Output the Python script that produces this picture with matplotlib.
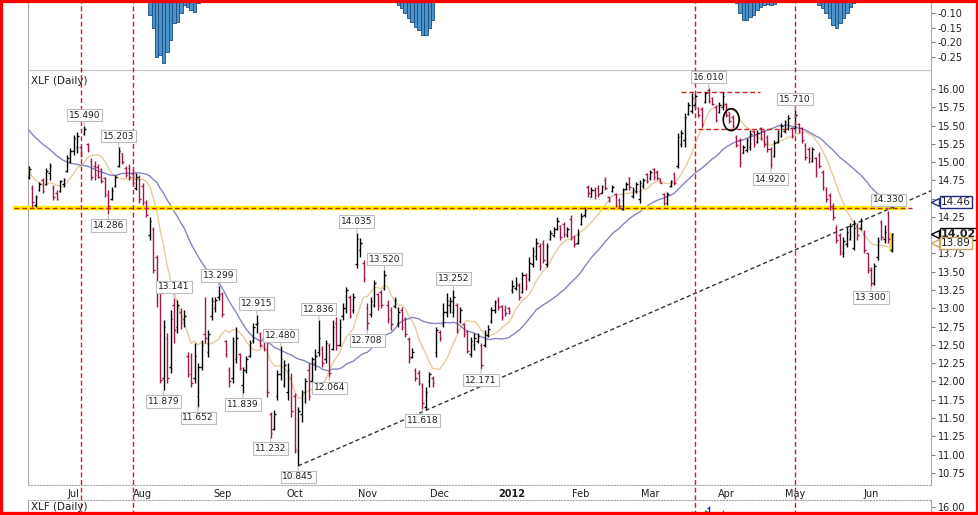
import numpy as np
import pandas as pd
import matplotlib
matplotlib.use("Agg")
import matplotlib.pyplot as plt
import matplotlib.transforms as mtrans
from matplotlib.patches import Ellipse, Rectangle

# XLF daily bars (open, high, low, close)
holidays = ["2011-07-04", "2011-09-05", "2011-11-24", "2011-12-26", "2012-01-02",
            "2012-01-16", "2012-02-20", "2012-04-06", "2012-05-28"]

# closes before the visible window, only used to seed the moving averages
warmup_closes = [16.05, 16.10, 15.95, 15.98, 15.90, 15.95, 16.00, 15.85, 15.80, 15.70,
                 15.72, 15.65, 15.70, 15.60, 15.55, 15.50, 15.52, 15.45, 15.40, 15.48,
                 15.55, 15.10, 15.05, 14.98, 14.90, 14.85, 14.70, 14.65, 14.72, 14.80]

jun11 = [(14.80, 14.94, 14.77, 14.90), (14.65, 14.69, 14.39, 14.45), (14.42, 14.55, 14.39, 14.52),
         (14.62, 14.73, 14.60, 14.70), (14.75, 14.78, 14.58, 14.60), (14.70, 14.92, 14.69, 14.88),
         (14.85, 14.99, 14.76, 14.95), (14.65, 14.69, 14.48, 14.52), (14.58, 14.62, 14.48, 14.50),
         (14.60, 14.76, 14.59, 14.74), (14.70, 14.78, 14.66, 14.76), (14.88, 15.10, 14.86, 15.05),
         (15.02, 15.19, 14.99, 15.15)]
jul11 = [(15.15, 15.37, 15.10, 15.33), (15.20, 15.41, 15.12, 15.36), (15.20, 15.21, 15.07, 15.10),
         (15.38, 15.49, 15.37, 15.45), (15.25, 15.26, 15.14, 15.16), (15.02, 15.05, 14.76, 14.80),
         (14.95, 15.02, 14.76, 14.82), (14.93, 14.97, 14.78, 14.80), (14.90, 14.92, 14.71, 14.74),
         (14.78, 14.80, 14.52, 14.56), (14.55, 14.62, 14.286, 14.40), (14.50, 14.66, 14.48, 14.62),
         (14.68, 14.82, 14.66, 14.80), (14.95, 15.203, 14.93, 15.15), (15.12, 15.13, 14.97, 15.00),
         (14.92, 14.95, 14.79, 14.82), (14.92, 14.98, 14.76, 14.80), (14.85, 14.90, 14.70, 14.72),
         (14.65, 14.85, 14.62, 14.80), (14.78, 14.82, 14.44, 14.50)]
aug11 = [(14.68, 14.71, 14.41, 14.46), (14.45, 14.48, 14.25, 14.27), (14.00, 14.25, 13.93, 14.20),
         (14.08, 14.11, 13.48, 13.52), (13.70, 13.73, 13.02, 13.35), (13.25, 13.29, 11.98, 12.02),
         (12.05, 12.84, 11.879, 12.75), (12.60, 12.66, 11.98, 12.05), (12.20, 12.98, 12.11, 12.85),
         (13.05, 13.141, 12.53, 12.70), (12.75, 13.11, 12.66, 13.05), (12.95, 13.00, 12.72, 12.80),
         (12.85, 12.98, 12.75, 12.90), (12.35, 12.40, 12.06, 12.10), (12.10, 12.39, 11.92, 11.98),
         (12.05, 12.53, 11.98, 12.35), (11.80, 12.25, 11.652, 12.20), (12.20, 12.57, 12.16, 12.50),
         (12.65, 13.15, 12.53, 12.60), (12.40, 12.70, 12.33, 12.65), (12.90, 13.15, 12.84, 13.10),
         (13.00, 13.15, 12.95, 13.12), (13.15, 13.299, 13.12, 13.20)]
sep11 = [(13.20, 13.22, 12.88, 12.92), (12.55, 12.57, 12.33, 12.38), (12.15, 12.20, 11.93, 12.00),
         (12.05, 12.61, 11.98, 12.55), (12.30, 12.74, 12.25, 12.60), (12.38, 12.39, 12.16, 12.18),
         (11.95, 12.20, 11.839, 12.15), (12.15, 12.35, 12.11, 12.30), (12.35, 12.57, 12.33, 12.52),
         (12.55, 12.80, 12.53, 12.75), (12.78, 12.915, 12.66, 12.80), (12.65, 12.68, 12.47, 12.50),
         (12.60, 12.62, 12.42, 12.45), (12.55, 12.57, 11.79, 11.85), (11.55, 11.58, 11.232, 11.30),
         (11.35, 11.61, 11.34, 11.55), (11.80, 12.16, 11.75, 12.10), (12.10, 12.48, 12.02, 12.30),
         (11.95, 12.29, 11.92, 12.22), (11.85, 12.25, 11.75, 12.15), (12.05, 12.11, 11.51, 11.60)]
oct11 = [(11.80, 11.84, 11.02, 11.08), (11.05, 11.65, 10.845, 11.60), (11.55, 11.88, 11.45, 11.85),
         (11.85, 12.05, 11.70, 12.00), (12.15, 12.25, 11.75, 11.80), (12.00, 12.33, 11.98, 12.30),
         (12.25, 12.45, 12.16, 12.35), (12.40, 12.836, 12.35, 12.60), (12.45, 12.48, 12.20, 12.25),
         (12.30, 12.57, 12.25, 12.52), (12.50, 12.53, 12.064, 12.12), (12.45, 12.84, 12.43, 12.75),
         (12.80, 12.88, 12.43, 12.50), (12.50, 12.86, 12.48, 12.75), (12.90, 13.07, 12.84, 13.00),
         (13.00, 13.29, 12.94, 13.25), (13.15, 13.18, 12.87, 12.90), (12.98, 13.21, 12.94, 13.15),
         (13.60, 14.035, 13.55, 13.95), (13.80, 13.96, 13.70, 13.90), (13.62, 13.66, 13.36, 13.40)]
nov11 = [(13.00, 13.07, 12.708, 12.80), (12.92, 13.15, 12.88, 13.10), (13.05, 13.39, 13.02, 13.35),
         (13.20, 13.21, 12.98, 13.05), (13.22, 13.25, 13.00, 13.05), (13.28, 13.52, 13.25, 13.45),
         (13.05, 13.11, 12.80, 12.85), (12.98, 13.02, 12.70, 12.78), (13.03, 13.15, 13.00, 13.12),
         (12.80, 13.02, 12.74, 12.95), (12.98, 13.02, 12.70, 12.75), (12.85, 12.88, 12.61, 12.65),
         (12.58, 12.61, 12.25, 12.30), (12.33, 12.46, 12.32, 12.40), (12.15, 12.18, 12.00, 12.05),
         (12.12, 12.16, 11.95, 11.98), (11.95, 11.98, 11.618, 11.70), (11.65, 11.92, 11.62, 11.85),
         (12.00, 12.13, 11.92, 12.10), (12.05, 12.08, 11.92, 11.98), (12.40, 12.74, 12.33, 12.70)]
dec11 = [(12.68, 12.70, 12.55, 12.60), (12.78, 13.07, 12.74, 12.95), (12.95, 13.21, 12.88, 13.10),
         (13.05, 13.15, 12.94, 13.10), (12.95, 13.252, 12.88, 13.15), (13.05, 13.07, 12.66, 12.70),
         (12.82, 13.02, 12.80, 12.98), (12.78, 12.80, 12.61, 12.65), (12.68, 12.70, 12.39, 12.42),
         (12.38, 12.61, 12.33, 12.55), (12.50, 12.66, 12.43, 12.60), (12.55, 12.66, 12.53, 12.62),
         (12.50, 12.53, 12.171, 12.22), (12.50, 12.70, 12.47, 12.66), (12.64, 12.77, 12.61, 12.72),
         (12.82, 13.02, 12.80, 12.98), (12.98, 13.11, 12.94, 13.08), (13.12, 13.15, 12.98, 13.02),
         (13.03, 13.05, 12.84, 12.88), (12.98, 13.05, 12.90, 12.94), (13.00, 13.02, 12.92, 12.96)]
jan12 = [(13.25, 13.39, 13.21, 13.30), (13.28, 13.43, 13.25, 13.35), (13.32, 13.35, 13.11, 13.15),
         (13.22, 13.50, 13.21, 13.45), (13.45, 13.48, 13.25, 13.30), (13.40, 13.70, 13.38, 13.62),
         (13.60, 13.84, 13.56, 13.78), (13.72, 13.96, 13.66, 13.90), (13.85, 13.89, 13.52, 13.58),
         (13.88, 13.93, 13.62, 13.66), (13.60, 13.89, 13.56, 13.85), (13.95, 14.07, 13.93, 14.03),
         (14.00, 14.11, 13.97, 14.08), (14.08, 14.25, 14.07, 14.20), (14.12, 14.14, 13.93, 13.98),
         (14.15, 14.18, 13.97, 14.02), (14.00, 14.11, 13.97, 14.08), (14.22, 14.28, 13.93, 13.98),
         (13.98, 14.00, 13.84, 13.88), (13.90, 14.08, 13.88, 14.02)]
feb12 = [(14.16, 14.30, 14.14, 14.26), (14.27, 14.39, 14.25, 14.35), (14.66, 14.69, 14.52, 14.58),
         (14.52, 14.66, 14.52, 14.62), (14.62, 14.66, 14.50, 14.55), (14.65, 14.69, 14.52, 14.56),
         (14.58, 14.69, 14.58, 14.66), (14.76, 14.80, 14.62, 14.65), (14.52, 14.53, 14.45, 14.47),
         (14.60, 14.69, 14.59, 14.66), (14.56, 14.58, 14.39, 14.42), (14.48, 14.51, 14.37, 14.40),
         (14.36, 14.65, 14.34, 14.62), (14.63, 14.73, 14.62, 14.70), (14.78, 14.80, 14.62, 14.66),
         (14.53, 14.66, 14.51, 14.62), (14.60, 14.73, 14.58, 14.70), (14.50, 14.76, 14.44, 14.72),
         (14.68, 14.78, 14.65, 14.76), (14.84, 14.85, 14.71, 14.74)]
mar12 = [(14.78, 14.89, 14.76, 14.86), (14.90, 14.92, 14.76, 14.80), (14.86, 14.89, 14.76, 14.78),
         (14.77, 14.78, 14.71, 14.72), (14.56, 14.58, 14.41, 14.44), (14.44, 14.59, 14.41, 14.56),
         (14.68, 14.76, 14.66, 14.74), (14.84, 14.87, 14.69, 14.72), (14.95, 15.40, 14.92, 15.35),
         (15.25, 15.44, 15.21, 15.40), (15.30, 15.67, 15.21, 15.62), (15.66, 15.82, 15.64, 15.78),
         (15.70, 15.95, 15.67, 15.88), (15.78, 15.95, 15.74, 15.90), (15.74, 15.75, 15.62, 15.65),
         (15.72, 15.75, 15.48, 15.52), (15.82, 15.96, 15.81, 15.94), (15.98, 16.01, 15.81, 15.84),
         (15.88, 15.89, 15.78, 15.80), (15.76, 15.78, 15.55, 15.58), (15.68, 15.82, 15.67, 15.78),
         (15.75, 15.96, 15.71, 15.90)]
apr12 = [(15.80, 15.81, 15.62, 15.65), (15.68, 15.69, 15.53, 15.56), (15.62, 15.64, 15.47, 15.50),
         (15.35, 15.37, 15.21, 15.24), (15.30, 15.33, 14.93, 15.00), (15.13, 15.23, 15.12, 15.20),
         (15.16, 15.33, 15.14, 15.30), (15.20, 15.44, 15.17, 15.38), (15.42, 15.44, 15.21, 15.25),
         (15.28, 15.44, 15.26, 15.40), (15.46, 15.48, 15.30, 15.33), (15.42, 15.44, 15.21, 15.25),
         (15.35, 15.37, 15.14, 15.18), (15.18, 15.21, 14.92, 14.98), (15.08, 15.30, 15.07, 15.26),
         (15.28, 15.44, 15.26, 15.40), (15.36, 15.53, 15.34, 15.50), (15.42, 15.58, 15.40, 15.55),
         (15.46, 15.64, 15.44, 15.60), (15.47, 15.48, 15.33, 15.36)]
may12 = [(15.46, 15.71, 15.44, 15.65), (15.52, 15.53, 15.40, 15.42), (15.46, 15.48, 15.26, 15.30),
         (15.24, 15.26, 15.03, 15.07), (15.18, 15.21, 14.99, 15.05), (15.02, 15.21, 15.00, 15.18),
         (15.05, 15.07, 14.80, 14.85), (15.10, 15.14, 14.92, 14.95), (14.86, 14.89, 14.62, 14.66),
         (14.62, 14.66, 14.45, 14.50), (14.55, 14.58, 14.34, 14.38), (14.40, 14.44, 14.21, 14.25),
         (14.10, 14.14, 13.89, 13.93), (14.00, 14.03, 13.73, 13.78), (13.75, 13.97, 13.70, 13.92),
         (13.88, 14.11, 13.84, 14.05), (13.95, 14.17, 13.93, 14.12), (13.82, 14.21, 13.80, 14.10),
         (14.12, 14.17, 13.93, 14.00), (14.10, 14.23, 14.07, 14.20), (14.02, 14.07, 13.76, 13.80),
         (13.75, 13.76, 13.48, 13.55)]
jun12 = [(13.52, 13.57, 13.30, 13.35), (13.35, 13.62, 13.32, 13.58), (13.70, 13.97, 13.66, 13.92),
         (14.18, 14.21, 13.93, 13.98), (13.95, 14.14, 13.89, 14.05), (14.30, 14.33, 13.89, 13.95),
         (13.80, 14.03, 13.77, 14.02)]

# labelled swing points (bar numbers)
pivot_highs = [16, 26, 42, 55, 66, 73, 84, 95, 103, 123, 197, 222, 249]
pivot_lows = [23, 39, 49, 62, 70, 78, 87, 98, 114, 131, 215, 244]

# top panel histogram (clipped at the top of the picture)
hist1_start, hist1 = 35, [-0.107, -0.152, -0.249, -0.243, -0.271, -0.232, -0.192, -0.135,
                          -0.130, -0.101, -0.073, -0.079, -0.090, -0.096, -0.067]
hist2_start, hist2 = 107, [-0.073, -0.083, -0.100, -0.117, -0.131, -0.148, -0.158, -0.175,
                           -0.175, -0.151, -0.124]
hist3_start, hist3 = 205, [-0.066, -0.100, -0.124, -0.124, -0.114, -0.107, -0.090, -0.080,
                           -0.073, -0.070, -0.073, -0.070]
hist4_start, hist4 = 229, [-0.073, -0.083, -0.100, -0.117, -0.141, -0.151, -0.134, -0.117,
                           -0.100, -0.080, -0.066]

# drawings on the chart
support_level = 14.375
vline_days = ["2011-07-06", "2011-07-27", "2012-03-20", "2012-05-01"]
trend_x = [78, 262]
trend_y = [10.845, 14.62]
box_top = (188.9, 211.9, 15.955)
box_bottom = (193.9, 220.6, 15.45)
tag_values = [14.46, 14.02, 13.89]
hidden_tick_labels = [14.50, 14.00]   # covered by the value tags

ohlc = np.array(jun11 + jul11 + aug11 + sep11 + oct11 + nov11 + dec11 +
                jan12 + feb12 + mar12 + apr12 + may12 + jun12)
opens, highs, lows, closes = ohlc.T

days = pd.bdate_range("2011-06-14", "2012-06-11")
days = days[~days.isin(pd.to_datetime(holidays))]
assert len(days) == len(ohlc), (len(days), len(ohlc))
x = np.arange(len(days))

allc = pd.Series(list(warmup_closes) + list(closes))
ma10 = allc.rolling(10).mean().to_numpy()[len(warmup_closes):]
ma30 = allc.rolling(30).mean().to_numpy()[len(warmup_closes):]

RED = "#a3174f"
GRID = "#a8a8a8"

fig = plt.figure(figsize=(9.79, 5.15), dpi=100, facecolor="white")
L, W = 28 / 979, 903 / 979
ax_top = fig.add_axes([L, 1 - 70 / 515, W, 70 / 515])
ax = fig.add_axes([L, 1 - 485 / 515, W, 415 / 515], sharex=ax_top)
ax_bot = fig.add_axes([L, 0, W, 15 / 515], sharex=ax_top)
ax_bot.set_facecolor("none")
ax.set_xlim(-0.3, 261.4)

# ---- top histogram ----
for start, vals in [(hist1_start, hist1), (hist2_start, hist2),
                    (hist3_start, hist3), (hist4_start, hist4)]:
    ax_top.bar(np.arange(start, start + len(vals)), vals, width=1.0,
               color="#4a93cc", edgecolor="#1d4e7e", linewidth=0.6)
ax_top.set_ylim(-0.294, -0.0558)
ax_top.yaxis.tick_right()
ax_top.set_yticks([-0.25, -0.20, -0.15, -0.10])
ax_top.set_yticklabels(["-0.25", "-0.20", "-0.15", "-0.10"])
ax_top.tick_params(axis="y", length=3, color="#808080", labelsize=7, labelcolor="#202020", pad=2)
ax_top.tick_params(axis="x", bottom=False, labelbottom=False)
for s in ["top", "bottom"]:
    ax_top.spines[s].set_visible(False)
for s in ["left", "right"]:
    ax_top.spines[s].set_color(GRID)

# ---- main price panel ----
# yellow highlight behind the latest bar
ax.add_patch(Rectangle((x[-1] - 0.7, lows[-1]), 1.4, highs[-1] - lows[-1],
                       fc="#f5e84a", ec="none", zorder=4.8))
col = np.where(closes >= opens, "black", RED)
ax.vlines(x, lows, highs, colors=col, lw=1.0, zorder=5)
ax.hlines(opens, x - 0.45, x, colors=col, lw=1.0, zorder=5)
ax.hlines(closes, x, x + 0.45, colors=col, lw=1.0, zorder=5)

ax.plot(x, ma10, color="#e8cb9c", lw=1.0, zorder=3)
ax.plot(x, ma30, color="#8585c2", lw=1.0, zorder=3)

ax.plot([-4, 253.5], [support_level] * 2, color="#fff000", lw=3.2, clip_on=False, zorder=4)
ax.plot([-4.3, 256], [support_level] * 2, color="#d42020", lw=1.0, ls=(0, (3.5, 2)),
        clip_on=False, zorder=4.5)
ax.plot(trend_x, trend_y, color="#333333", lw=1.0, ls=(0, (3, 2)), zorder=4)
for x0, x1, y0 in [box_top, box_bottom]:
    ax.plot([x0, x1], [y0, y0], color="#d42020", lw=1.0, ls=(0, (3.5, 2)), zorder=4)
ax.add_patch(Ellipse((203.5, 15.58), 4.6, 0.30, fill=False, ec="black", lw=1.2, zorder=6))

for d in vline_days:
    i = days.get_loc(pd.Timestamp(d))
    ax.axvline(i, ymin=-30 / 415, ymax=1 + 70 / 415, color="#cc1f1f", lw=1.0,
               ls=(0, (3.5, 2)), clip_on=False, zorder=7)

box = dict(boxstyle="square,pad=0.2", fc="white", ec="#bdbdbd", lw=0.8)
arrow = dict(arrowstyle="-", color="#b5b5b5", lw=0.7, shrinkA=0, shrinkB=0)
for i in pivot_highs:
    ax.annotate(f"{highs[i]:.3f}", xy=(i, highs[i]), xytext=(0, 8), textcoords="offset points",
                ha="center", va="center", fontsize=6.5, color="#202020", bbox=box,
                arrowprops=arrow, zorder=8)
for i in pivot_lows:
    ax.annotate(f"{lows[i]:.3f}", xy=(i, lows[i]), xytext=(0, -8), textcoords="offset points",
                ha="center", va="center", fontsize=6.5, color="#202020", bbox=box,
                arrowprops=arrow, zorder=8)

ax.set_ylim(10.583, 16.26)
ax.yaxis.tick_right()
yt = np.arange(10.75, 16.01, 0.25)
ax.set_yticks(yt)
ax.set_yticklabels(["" if any(abs(v - h) < 1e-6 for h in hidden_tick_labels) else f"{v:.2f}"
                    for v in yt])
ax.tick_params(axis="y", length=3, color="#808080", labelsize=7, labelcolor="#202020", pad=2)

month_pos = [i for i in range(1, len(days)) if days[i].month != days[i - 1].month]
month_lab = [days[i].strftime("%Y") if days[i].month == 1 else days[i].strftime("%b")
             for i in month_pos]
ax.set_xticks(month_pos)
ax.set_xticklabels(month_lab)
ax.tick_params(axis="x", length=0, labelsize=7, labelcolor="#202020", pad=3)
for t in ax.get_xticklabels():
    if t.get_text() == "2012":
        t.set_fontweight("bold")

for s in ["left", "right"]:
    ax.spines[s].set_color(GRID)
ax.spines["top"].set_color("#c0c0c0")
ax.spines["bottom"].set_color(GRID)
ax.spines["bottom"].set_linestyle(":")

ax.text(0.003, 0.985, "XLF (Daily)", transform=ax.transAxes, ha="left", va="top",
        fontsize=7.5, color="#202020")

# value tags on the price scale: small box with a left point
trans = mtrans.blended_transform_factory(ax.transAxes, ax.transData)
tag_styles = [("#1f2a80", "normal", 7.5), ("black", "bold", 8), ("#c9a862", "normal", 7.5)]
for val, (ec, fw, fs) in zip(tag_values, tag_styles):
    ax.plot([1.0045], [val], marker="<", ms=5.5, mfc="white", mec=ec, mew=1.0,
            transform=trans, clip_on=False, zorder=19)
    ax.text(1.011, val, f"{val:.2f}", transform=trans, ha="left", va="center", fontsize=fs,
            fontweight=fw, color="#202020", clip_on=False, zorder=20,
            bbox=dict(boxstyle="square,pad=0.1", fc="white", ec=ec, lw=1.0))

# ---- bottom panel (same bars, another colour scheme) ----
col2 = np.where(closes >= opens, "#1f9a2a", "#1a1ad0")
ax_bot.vlines(x, lows, highs, colors=col2, lw=1.0)
ax_bot.hlines(opens, x - 0.45, x, colors=col2, lw=1.0)
ax_bot.hlines(closes, x, x + 0.45, colors=col2, lw=1.0)
ax_bot.set_ylim(15.89, 16.096)
ax_bot.yaxis.tick_right()
ax_bot.set_yticks([16.0])
ax_bot.set_yticklabels(["16.00"])
ax_bot.tick_params(axis="y", length=3, color="#808080", labelsize=7, labelcolor="#202020", pad=2)
ax_bot.tick_params(axis="x", bottom=False, labelbottom=False)
ax_bot.spines["bottom"].set_visible(False)
ax_bot.spines["top"].set_color(GRID)
ax_bot.spines["top"].set_linestyle(":")
for s in ["left", "right"]:
    ax_bot.spines[s].set_color(GRID)
ax_bot.text(0.003, 0.55, "XLF (Daily)", transform=ax_bot.transAxes, ha="left", va="center",
            fontsize=7.5, color="#202020")

fig.add_artist(Rectangle((0, 0), 1, 1, transform=fig.transFigure, fill=False,
                         ec="#ff0000", lw=4.5, zorder=100))

fig.savefig("out.png", dpi=100)
